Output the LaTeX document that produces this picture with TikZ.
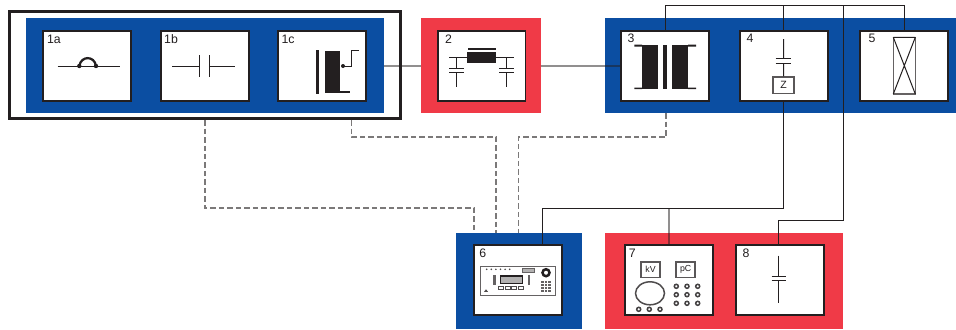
\documentclass[tikz,border=0pt]{standalone}
\usepackage{fontspec}
\setsansfont{Liberation Sans}
\definecolor{ink}{HTML}{231F20}
\definecolor{panelblue}{HTML}{0B4EA2}
\definecolor{panelred}{HTML}{F03A47}
\tikzset{
	bluepanel/.style = {fill = panelblue, inner sep = 0, outer sep = 0},
	redpanel/.style = {fill = panelred, inner sep = 0, outer sep = 0},
	unitbox/.style = {draw = ink, fill = white, line width = 0.04cm, minimum width = 1.76cm, minimum height = 1.39cm, inner sep = 0, outer sep = 0},
	unitlabel/.style = {font = \sffamily\fontsize{7}{8}\selectfont, text = ink, inner sep = 0},
	smallbox/.style = {draw = ink!75, fill = white, line width = 0.03cm, font = \sffamily\fontsize{5}{6}\selectfont, text = ink, inner sep = 0},
	wire/.style = {draw = ink, line width = 0.02cm},
	palewire/.style = {draw = ink, opacity = 0.5, line width = 0.03cm},
	dashwire/.style = {draw = ink!60, line width = 0.03cm, dash pattern = on 0.11cm off 0.06cm},
	glyph/.style = {draw = ink, line width = 0.02cm},
	heavy/.style = {fill = ink, draw = none}
}
\begin{document}
\begin{tikzpicture}[x = 0.02cm, y = -0.02cm]
	\useasboundingbox (0,0) rectangle (956,329);
	% panels
	\node[draw = ink, line width = 0.06cm, minimum width = 7.84cm, minimum height = 2.16cm, inner sep = 0, outer sep = 0] (frame1) at (205,65) {};
	\node[bluepanel, minimum width = 7.16cm, minimum height = 1.91cm] (panel1) at (205,65.75) {};
	\node[redpanel, minimum width = 2.4cm, minimum height = 1.91cm] (panel2) at (481,65.75) {};
	\node[bluepanel, minimum width = 7.02cm, minimum height = 1.91cm] (panel3) at (780.5,65.75) {};
	\node[bluepanel, minimum width = 2.52cm, minimum height = 1.92cm] (panel6) at (519,281) {};
	\node[redpanel, minimum width = 4.76cm, minimum height = 1.92cm] (panel7) at (724,281) {};
	% units
	\node[unitbox] (unit1a) at (87.25,66) {};
	\node[unitbox] (unit1b) at (204.75,66) {};
	\node[unitbox] (unit1c) at (322.25,66) {};
	\node[unitbox] (unit2) at (481.5,66) {};
	\node[unitbox] (unit3) at (665.25,66) {};
	\node[unitbox] (unit4) at (783.5,66) {};
	\node[unitbox] (unit5) at (904,66) {};
	\node[unitbox] (unit6) at (518.25,280) {};
	\node[unitbox] (unit7) at (668.75,280) {};
	\node[unitbox] (unit8) at (780,280) {};
	% unit numbers
	\node[unitlabel] (label1a) at (54,39) {1a};
	\node[unitlabel] (label1b) at (171,39) {1b};
	\node[unitlabel] (label1c) at (288,39) {1c};
	\node[unitlabel] (label2) at (448.5,39) {2};
	\node[unitlabel] (label3) at (631,38.5) {3};
	\node[unitlabel] (label4) at (750,38) {4};
	\node[unitlabel] (label5) at (872,38.5) {5};
	\node[unitlabel] (label6) at (482.7,253) {6};
	\node[unitlabel] (label7) at (632.3,253) {7};
	\node[unitlabel] (label8) at (746,253) {8};
	% connectors
	\coordinate (bus5) at (904,5);
	\coordinate (bus843) at (843,5);
	\coordinate (drop843) at (843,220);
	\coordinate (bend4) at (783.5,208.5);
	\coordinate (bend6) at (542,208.5);
	\coordinate (tap6) at (542,244);
	\coordinate (tap7) at (669,208.5);
	\coordinate (bend8) at (778,220);
	\coordinate (tap8) at (778,244);
	\coordinate (dash1a) at (205,120);
	\coordinate (dash1b) at (205,208);
	\coordinate (dash1c) at (474,208);
	\coordinate (dash1d) at (474,233);
	\coordinate (dash2a) at (351.5,120);
	\coordinate (dash2b) at (351.5,137);
	\coordinate (dash2c) at (496,137);
	\coordinate (dash2d) at (496,233);
	\coordinate (dash3a) at (666,113);
	\coordinate (dash3b) at (666,137);
	\coordinate (dash3c) at (518.5,137);
	\draw[palewire] (panel1.east |- unit1c.east) -- (panel2.west |- unit2.west);
	\draw[palewire] (panel2.east |- unit2.east) -- (unit3.west);
	\draw[wire] (unit3.north) |- (bus5) -- (unit5.north);
	\draw[wire] (unit4.north) -- (unit4.north |- bus5);
	\draw[wire] (bus843) -- (drop843) -- (bend8) -- (tap8);
	\draw[wire] (unit4.south) -- (bend4) -- (bend6) -- (tap6);
	\draw[palewire] (tap7) -- (unit7.north -| tap7);
	\draw[dashwire] (dash1a) -- (dash1b) -- (dash1c) -- (dash1d);
	\draw[dashwire] (dash2a) -- (dash2b) -- (dash2c) -- (dash2d);
	\draw[dashwire] (dash3a) -- (dash3b) -- (dash3c) -- (dash3c |- panel6.north);
	% 1a
	\draw[glyph] (57.7,66) -- (120,66);
	\draw[ink, line width = 0.045cm] (79.3,66) .. controls (81,55.5) and (94.5,55.5) .. (96,66);
	\fill[ink] (79.3,66) circle (2.2) (96,66) circle (2.2);
	% 1b
	\draw[glyph] (172,66) -- (199.3,66) (209.3,66) -- (235,66);
	\draw[glyph] (199.3,55) -- (199.3,76.7) (209.3,55) -- (209.3,76.7);
	% 1c
	\fill[heavy] (315.5,50) rectangle (318.8,94);
	\fill[heavy] (324.7,50.5) rectangle (340,93);
	\draw[ink, line width = 0.045cm] (340,92) -- (350,92);
	\draw[glyph] (359,50.7) -- (351.7,50.7) -- (351.7,66) -- (343,66);
	\fill[ink] (343,66) circle (2);
	% 2
	\fill[heavy] (466.7,51.7) rectangle (496,63);
	\fill[heavy] (467.7,47.5) rectangle (496,50);
	\draw[glyph] (449.3,57.3) -- (467,57.3) (496,57.3) -- (514.3,57.3);
	\foreach \capx in {456.7,506.7} {
		\draw[glyph] (\capx,57.3) -- (\capx,68.3) (\capx,72.7) -- (\capx,86.7);
		\draw[glyph] (\capx-7.7,68.3) -- (\capx+7.7,68.3) (\capx-7.7,72.7) -- (\capx+7.7,72.7);
	}
	% 3
	\fill[heavy] (642,45) rectangle (657.7,89);
	\fill[heavy] (634.3,44.5) rectangle (642,46.5) (634.3,87.5) rectangle (642,89);
	\fill[heavy] (663.3,45) rectangle (666.7,89);
	\fill[heavy] (672,45) rectangle (688,89);
	\fill[heavy] (688,44.5) rectangle (696,46.5) (688,87.5) rectangle (696,89);
	% 4
	\node[smallbox, minimum width = 0.42cm, minimum height = 0.33cm, font = \sffamily\fontsize{6}{7}\selectfont] (boxZ) at (783.7,85.3) {Z};
	\draw[glyph] (783.5,39) -- (783.5,58.3) (783.5,63.3) -- (boxZ.north);
	\draw[glyph] (775.7,58.3) -- (790.7,58.3) (775.7,63.3) -- (790.7,63.3);
	% 5
	\draw[draw = ink!70, line width = 0.03cm] (893.3,37.3) rectangle (915.3,94);
	\draw[glyph] (893.3,37.3) -- (915.3,37.3) (893.3,37.3) -- (915.3,94) (915.3,37.3) -- (893.3,94);
	% 6
	\draw[draw = ink!70, line width = 0.02cm] (480.7,266.7) rectangle (555.7,295);
	\foreach \dotx in {486.7,491.3,...,510} {
		\fill[ink!80] (\dotx,269.3) circle (0.9);
	}
	\draw[draw = ink!70, fill = ink!35, line width = 0.02cm] (522.7,268.3) rectangle (534,272.7);
	\draw[ink, line width = 0.05cm] (546,272.7) circle (3.5);
	\draw[draw = ink, fill = ink!35, line width = 0.03cm] (500.7,276) rectangle (522.3,283.3);
	\foreach \barx in {494.3,528.7} {
		\fill[ink!70] (\barx-1.2,275) rectangle (\barx+1.2,285);
	}
	\foreach \btnx in {498.7,505,511.5,518} {
		\draw[draw = ink!80, line width = 0.02cm] (\btnx,286) rectangle (\btnx+5,289.3);
	}
	\fill[ink!70] (541,280.7) rectangle (550.7,291.7);
	\foreach \gridx in {544.2,547.4} {
		\draw[white, line width = 0.006cm] (\gridx,280.7) -- (\gridx,291.7);
	}
	\foreach \gridy in {283.4,286.2,289} {
		\draw[white, line width = 0.006cm] (541,\gridy) -- (550.7,\gridy);
	}
	\fill[ink!80] (484,291.8) -- (486,289.3) -- (488,291.8) -- cycle;
	% 7
	\node[smallbox, minimum width = 0.38cm, minimum height = 0.31cm] (boxkV) at (650.5,269.5) {kV};
	\node[smallbox, minimum width = 0.38cm, minimum height = 0.31cm] (boxpC) at (685.7,269.5) {pC};
	\draw[draw = ink!80, line width = 0.03cm] (650,293.3) ellipse (14.5 and 11.5);
	\foreach \dotx in {676.3,687,697.7} {
		\foreach \doty in {286.3,294.7,303.3} {
			\draw[ink!85, line width = 0.03cm] (\dotx,\doty) circle (2);
		}
	}
	\foreach \dotx in {638.7,649.3,660} {
		\draw[ink!85, line width = 0.03cm] (\dotx,309.3) circle (2);
	}
	% 8
	\draw[glyph] (778.3,255.7) -- (778.3,276) (778.3,280.7) -- (778.3,302.7);
	\draw[glyph] (771.7,276) -- (786.3,276) (771.7,280.7) -- (786.3,280.7);
\end{tikzpicture}
\end{document}
